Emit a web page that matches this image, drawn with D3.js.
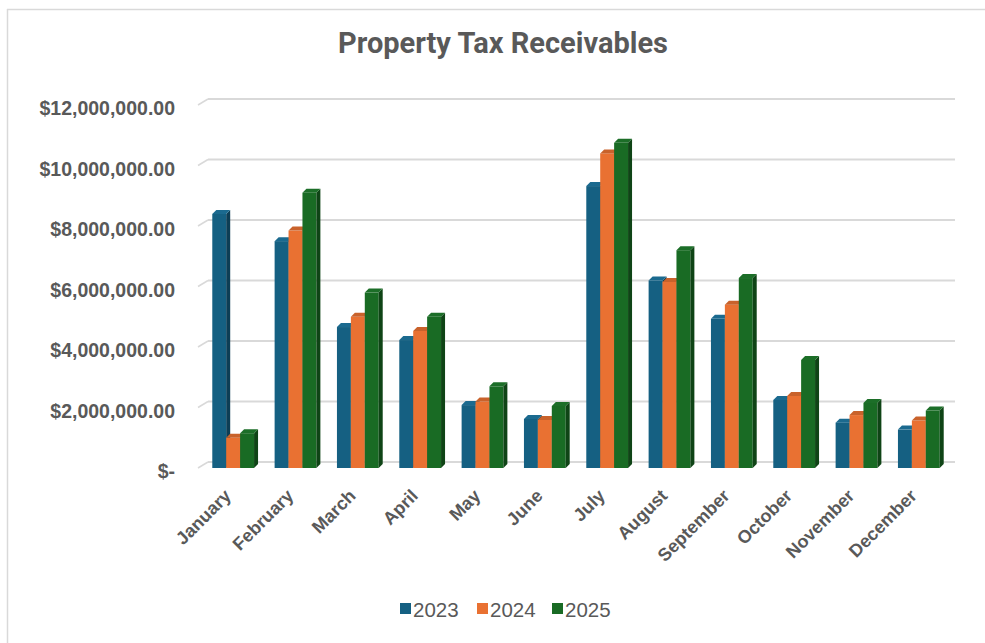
<!DOCTYPE html>
<html>
<head>
<meta charset="utf-8">
<script src="https://cdn.jsdelivr.net/npm/d3@7"></script>
<style>
  body { margin: 0; background: #fff; }
  text { font-family: "Liberation Sans", Arial, sans-serif; fill: #595959; }
</style>
</head>
<body>
<svg id="chart" width="985" height="643"></svg>
<script>
// chart data
const months = ["January", "February", "March", "April", "May", "June",
  "July", "August", "September", "October", "November", "December"];
const years = ["2023", "2024", "2025"];
const values2023 = [8400000, 7500000, 4660000, 4230000, 2080000, 1620000, 9320000, 6200000, 4930000, 2250000, 1500000, 1270000];
const values2024 = [1000000, 7850000, 5000000, 4530000, 2200000, 1590000, 10400000, 6150000, 5400000, 2380000, 1750000, 1570000];
const values2025 = [1150000, 9100000, 5800000, 5000000, 2700000, 2050000, 10750000, 7200000, 6280000, 3570000, 2150000, 1900000];
const yTicks = [0, 2000000, 4000000, 6000000, 8000000, 10000000, 12000000];

const series = [values2023, values2024, values2025];
const colors = ["#156082", "#E97132", "#196B24"];
const sideColors = ["#0d3e55", "#a84f20", "#0f4416"];
const topColors = ["#1b6a8f", "#c9622b", "#1c6e28"];

const svg = d3.select("#chart");
const depthX = 4, depthY = -4;   // pseudo 3D offset of bar depth
const wallX = 10, wallY = -6;    // offset of back wall gridlines

const x = d3.scaleBand().domain(months).range([202, 950]).paddingInner(0.33).paddingOuter(0.165);
const xs = d3.scaleBand().domain(years).range([0, x.bandwidth()]);
const y = d3.scaleLinear().domain([0, 12000000]).range([468, 105]);

// frame lines (left and top only)
svg.append("line").attr("x1", 7.5).attr("x2", 7.5).attr("y1", 9).attr("y2", 643)
  .attr("stroke", "#d9d9d9").attr("stroke-width", 1.5);
svg.append("line").attr("x1", 7).attr("x2", 985).attr("y1", 9.5).attr("y2", 9.5)
  .attr("stroke", "#d9d9d9").attr("stroke-width", 1.5);

// title
svg.append("text").attr("x", 503).attr("y", 53).attr("text-anchor", "middle")
  .style("font-family", "Roboto, sans-serif")
  .style("font-size", "29px").style("font-weight", "bold").text("Property Tax Receivables");

// gridlines on back wall with small diagonal floor/wall ticks
const grid = svg.append("g");
grid.selectAll("line.g").data(yTicks).enter().append("line")
  .attr("x1", 198 + wallX).attr("x2", 955)
  .attr("y1", d => y(d) + wallY).attr("y2", d => y(d) + wallY)
  .attr("stroke", "#d9d9d9").attr("stroke-width", 2);
grid.selectAll("line.d").data(yTicks).enter().append("line")
  .attr("x1", 198).attr("x2", 198 + wallX)
  .attr("y1", d => y(d)).attr("y2", d => y(d) + wallY)
  .attr("stroke", "#d9d9d9").attr("stroke-width", 1.5);

// y axis labels
const fmt = d => d === 0 ? "$-" : "$" + d3.format(",.2f")(d);
svg.append("g").selectAll("text").data(yTicks).enter().append("text")
  .attr("x", 175).attr("y", d => y(d) + 5)
  .attr("text-anchor", "end").attr("dominant-baseline", "middle")
  .style("font-size", "19.5px").style("font-weight", "bold")
  .text(fmt);

// bars
const bars = svg.append("g");
months.forEach((m, i) => {
  series.forEach((vals, s) => {
    const x0 = x(m) + xs(years[s]);
    const w = xs.bandwidth();
    const yt = y(vals[i]);
    const yb = y(0);
    const g = bars.append("g");
    g.append("rect").attr("x", x0).attr("y", yt).attr("width", w).attr("height", yb - yt)
      .attr("fill", colors[s]);
    g.append("path")
      .attr("d", `M${x0 + w},${yt} L${x0 + w + depthX},${yt + depthY} L${x0 + w + depthX},${yb + depthY} L${x0 + w},${yb} Z`)
      .attr("fill", sideColors[s]);
    g.append("path")
      .attr("d", `M${x0},${yt} L${x0 + depthX},${yt + depthY} L${x0 + w + depthX},${yt + depthY} L${x0 + w},${yt} Z`)
      .attr("fill", topColors[s]);
  });
});

// x axis labels rotated
svg.append("g").selectAll("text").data(months).enter().append("text")
  .attr("transform", d => `translate(${x(d) + x.bandwidth() / 2 - 1},${497}) rotate(-45)`)
  .attr("text-anchor", "end")
  .style("font-size", "18px").style("font-weight", "bold")
  .text(d => d);

// legend
const legend = svg.append("g");
const legendX = [400, 477, 552];
years.forEach((yr, s) => {
  legend.append("rect").attr("x", legendX[s]).attr("y", 603).attr("width", 11).attr("height", 11)
    .attr("fill", colors[s]);
  legend.append("text").attr("x", legendX[s] + 13).attr("y", 617)
    .style("font-size", "20.5px").text(yr);
});
</script>
</body>
</html>
